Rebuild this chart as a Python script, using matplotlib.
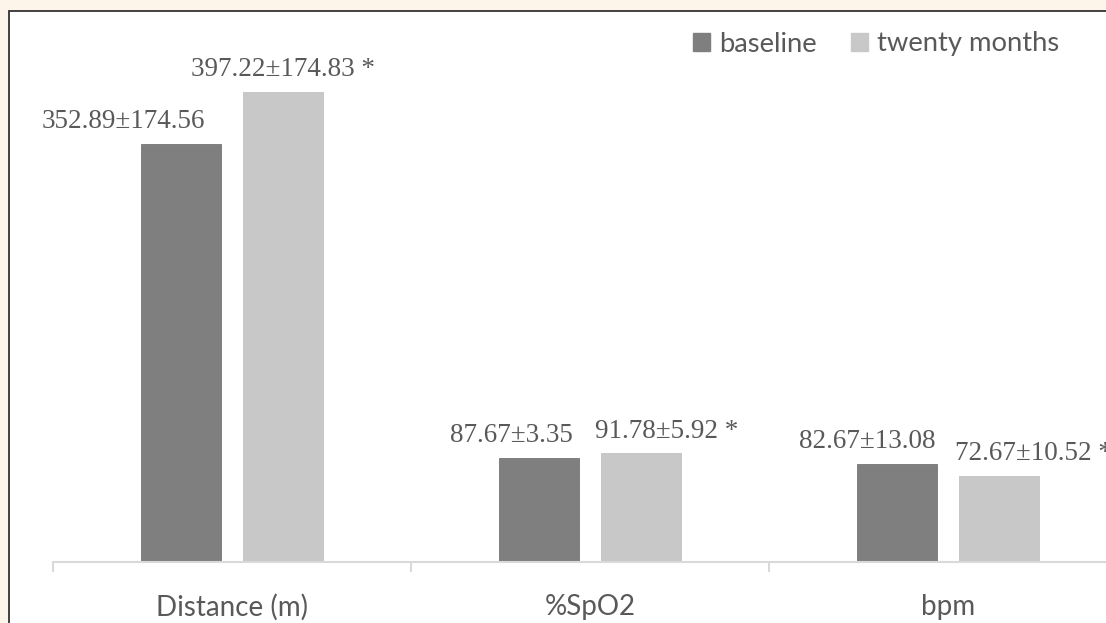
import matplotlib.pyplot as plt
from matplotlib.patches import Rectangle, Patch

categories = ["Distance (m)", "%SpO2", "bpm"]
baseline = [352.89, 87.67, 82.67]
twenty_months = [397.22, 91.78, 72.67]
baseline_labels = ["352.89\u00b1174.56", "87.67\u00b13.35", "82.67\u00b113.08"]
twenty_labels = ["397.22\u00b1174.83 *", "91.78\u00b15.92 *", "72.67\u00b110.52 *"]
# horizontal nudges of the value labels (points), as placed in the original
baseline_shift = [-41, -19.5, -21.5]
twenty_shift = [0, 18.7, 24.5]

dark = "#7f7f7f"
light = "#c8c8c8"
text_col = "#595959"

fig = plt.figure(figsize=(11.06, 6.23), dpi=100, facecolor="#fdf5e9")
frame = Rectangle((9 / 1106, -0.1), 1.2, 0.1 + 1 - 11 / 623,
                  transform=fig.transFigure, facecolor="white",
                  edgecolor="#333333", linewidth=1.3, zorder=-10)
fig.patches.append(frame)

ax = fig.add_axes([53 / 1106, 61 / 623, 3 * 358 / 1106, 533 / 623])
ax.patch.set_alpha(0)

x = range(len(categories))
w = 0.223
off = 0.143
xb = [i - off for i in x]
xt = [i + off for i in x]
ax.bar(xb, baseline, w, color=dark, edgecolor="#767676", linewidth=0.6)
ax.bar(xt, twenty_months, w, color=light, edgecolor="#c2c2c2", linewidth=0.6)

for xi, v, lab, dx in zip(xb, baseline, baseline_labels, baseline_shift):
    ax.annotate(lab, (xi, v), xytext=(dx, 7), textcoords="offset points",
                ha="center", va="bottom", fontsize=19.5,
                family="Liberation Serif", color=text_col)
for xi, v, lab, dx in zip(xt, twenty_months, twenty_labels, twenty_shift):
    ax.annotate(lab, (xi, v), xytext=(dx, 7), textcoords="offset points",
                ha="center", va="bottom", fontsize=19.5,
                family="Liberation Serif", color=text_col)

ax.set_xlim(-0.5, 2.5)
ax.set_ylim(0, 450)
for s in ["top", "right", "left"]:
    ax.spines[s].set_visible(False)
ax.spines["bottom"].set_color("#d9d9d9")
ax.spines["bottom"].set_linewidth(1.5)
ax.set_yticks([])

ax.set_xticks([-0.5, 0.5, 1.5, 2.5])
ax.set_xticklabels([])
ax.tick_params(axis="x", which="major", length=7, width=1.5, color="#d9d9d9")
ax.set_xticks(list(x), minor=True)
ax.set_xticklabels(categories, minor=True, fontsize=20, family="Lato",
                   color=text_col)
ax.tick_params(axis="x", which="minor", length=0, pad=23)

handles = [Patch(facecolor=dark, edgecolor=dark, label="baseline"),
           Patch(facecolor=light, edgecolor=light, label="twenty months")]
fig.legend(handles=handles, loc="center left",
           bbox_to_anchor=(693 / 1106, 1 - 44 / 623), ncol=2, frameon=False,
           borderpad=0, borderaxespad=0, handlelength=0.63, handleheight=0.63,
           handletextpad=0.33, columnspacing=1.25,
           prop={"family": "Lato", "size": 19.7}, labelcolor=text_col)

fig.savefig("out.png", dpi=100, facecolor=fig.get_facecolor())
